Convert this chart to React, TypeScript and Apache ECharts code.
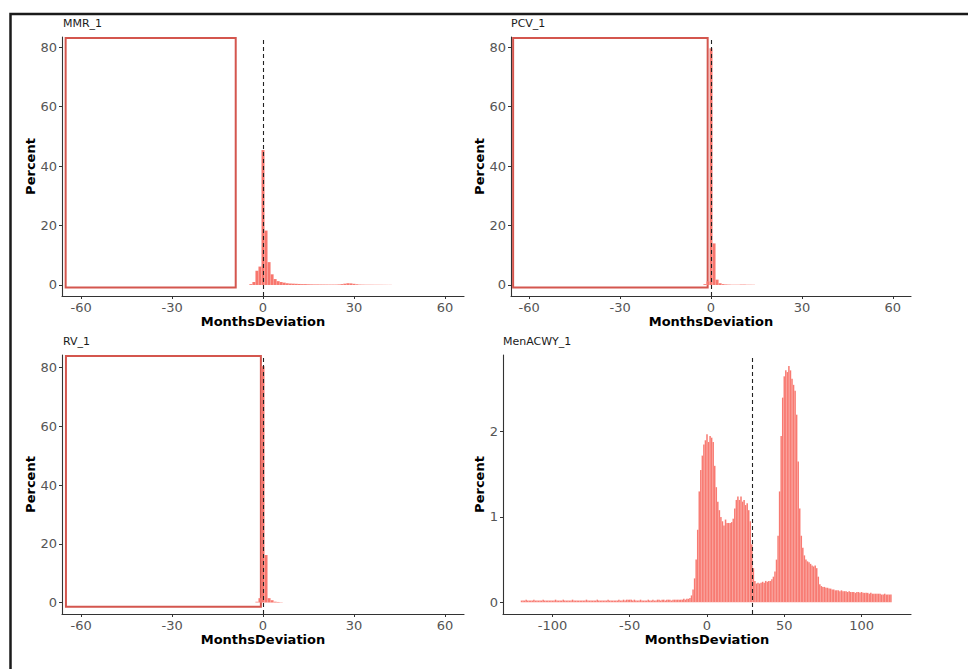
import React, { useEffect, useRef } from 'react';
import * as echarts from 'echarts';

const FONT = 'DejaVu Sans';
const BAR_FILL = '#F8766D';

// Panel titles
const PANEL_TITLES = ['MMR_1', 'PCV_1', 'RV_1', 'MenACWY_1'];

// Histogram bins (binwidth 1 month), first bin centre + percentages
const MMR_START = -4;
const MMR_PCT = [0.3, 1.0, 4.8, 6.2, 45.4, 18.3, 7.7, 3.6, 2.0, 1.3, 1.0, 0.8, 0.6, 0.5, 0.45, 0.4, 0.35, 0.3, 0.3, 0.25,
  0.22, 0.2, 0.2, 0.18, 0.17, 0.16, 0.15, 0.15, 0.15, 0.2, 0.3, 0.45, 0.6, 0.55, 0.4, 0.25, 0.15, 0.12, 0.1, 0.1,
  0.09, 0.08, 0.08, 0.07, 0.06, 0.05, 0.05];

const PCV_START = -2;
const PCV_PCT = [0.3, 1.2, 79.6, 14.0, 1.8, 0.6, 0.3, 0.2, 0.15, 0.1, 0.1, 0.1, 0.15, 0.15, 0.1, 0.1, 0.08];

const RV_START = -2;
const RV_PCT = [0.3, 1.5, 80.5, 16.2, 1.5, 0.8, 0.3, 0.2, 0.1];

const MEN_START = -120;
const MEN_PCT = [
  0.02, 0.02, 0.02, 0.03, 0.02, 0.02, 0.02, 0.02, 0.03, 0.02, 0.02, 0.02, 0.02, 0.02, 0.03, 0.02, 0.02, 0.02, 0.02, 0.02,
  0.02, 0.02, 0.03, 0.02, 0.02, 0.02, 0.02, 0.03, 0.02, 0.02, 0.02, 0.02, 0.02, 0.03, 0.02, 0.02, 0.02, 0.02, 0.02, 0.02,
  0.02, 0.02, 0.03, 0.02, 0.02, 0.02, 0.02, 0.02, 0.02, 0.03, 0.02, 0.02, 0.02, 0.02, 0.02, 0.02, 0.03, 0.02, 0.02, 0.02,
  0.02, 0.02, 0.02, 0.03, 0.02, 0.02, 0.03, 0.02, 0.03, 0.03, 0.03, 0.03, 0.02, 0.03, 0.02, 0.02, 0.02, 0.03, 0.02, 0.02,
  0.02, 0.02, 0.03, 0.02, 0.02, 0.03, 0.02, 0.02, 0.03, 0.03, 0.02, 0.03, 0.03, 0.02, 0.03, 0.03, 0.03, 0.02, 0.03, 0.03,
  0.03, 0.03, 0.03, 0.03, 0.03, 0.04, 0.03, 0.04, 0.04, 0.05,
  0.08, 0.15, 0.28, 0.5, 0.85, 1.3, 1.55, 1.72, 1.85, 1.9,
  1.97, 1.88, 1.95, 1.93, 1.88, 1.6, 1.35, 1.18, 1.08, 1.0,
  0.95, 0.9, 0.97, 0.93, 0.93, 0.93, 0.94, 0.98, 1.1, 1.2,
  1.24, 1.2, 1.24, 1.18, 1.2, 1.14, 1.16, 1.08, 0.95, 0.68,
  0.4, 0.25, 0.22, 0.23, 0.22, 0.23, 0.24, 0.23, 0.25, 0.24,
  0.25, 0.25, 0.27, 0.3, 0.36, 0.5, 0.78, 1.3, 1.95, 2.4,
  2.65, 2.72, 2.7, 2.77, 2.72, 2.62, 2.55, 2.48, 2.2, 1.65,
  1.1, 0.78, 0.64, 0.55, 0.5, 0.48, 0.47, 0.45, 0.43, 0.42,
  0.43, 0.4, 0.3, 0.21, 0.19, 0.18, 0.18, 0.17, 0.17, 0.16,
  0.16, 0.15, 0.15, 0.14, 0.14, 0.14, 0.13, 0.14, 0.13, 0.13,
  0.13, 0.12, 0.13, 0.12, 0.12, 0.12, 0.11, 0.12, 0.12, 0.11,
  0.12, 0.11, 0.11, 0.11, 0.11, 0.1, 0.11, 0.1, 0.1, 0.1,
  0.1, 0.1, 0.1, 0.09, 0.09, 0.1, 0.09, 0.09, 0.09, 0.09,
];

// Reference (dashed) lines, in months
const REF_LINES = [0, 0, 0, 29];

// Tick values
const X_TICKS_SMALL = [-60, -30, 0, 30, 60];
const X_TICKS_MEN = [-100, -50, 0, 50, 100];
const Y_TICKS_PCT = [0, 20, 40, 60, 80];
const Y_TICKS_MEN = [0, 1, 2];

// Axis ranges [xmin, xmax, ymin, ymax]
const RANGES = [
  [-66.3, 66.3, -3.7, 83.4],
  [-66.0, 66.0, -3.7, 83.4],
  [-66.3, 66.3, -3.9, 84.3],
  [-132, 132, -0.138, 2.9],
];

// Red highlight boxes in data coordinates [x0, y0, x1, y1]
const BOXES: (number[] | null)[] = [
  [-65.1, 83.1, -9.0, -0.8],
  [-65.3, 83.1, -1.1, -0.8],
  [-65.0, 84.0, -0.7, -1.4],
  null,
];

const GRIDS = [
  { left: 62, top: 37, width: 402, height: 259 },
  { left: 511, top: 37, width: 400, height: 259 },
  { left: 62, top: 355, width: 402, height: 259 },
  { left: 503, top: 355, width: 408, height: 259 },
];

function toData(start: number, vals: number[]) {
  return vals.map((v, i) => [start + i, v]);
}

export default function App() {
  const ref = useRef<HTMLDivElement>(null);
  useEffect(() => {
    if (!ref.current) return;
    const chart = echarts.init(ref.current, undefined, { renderer: 'svg' });
    const datasets = [
      toData(MMR_START, MMR_PCT),
      toData(PCV_START, PCV_PCT),
      toData(RV_START, RV_PCT),
      toData(MEN_START, MEN_PCT),
    ];
    const axisLine = { show: true, onZero: false, lineStyle: { color: '#333333', width: 1.1 } };
    const xAxis = GRIDS.map((_, i) => {
      const ticks = i === 3 ? X_TICKS_MEN : X_TICKS_SMALL;
      return {
        type: 'value',
        gridIndex: i,
        min: RANGES[i][0],
        max: RANGES[i][1],
        axisLine,
        axisTick: { show: true, length: 3, customValues: ticks, lineStyle: { color: '#333333', width: 1 } },
        axisLabel: { customValues: ticks, fontSize: 13, color: '#555555', margin: 5, fontFamily: FONT },
        splitLine: { show: false },
        name: 'MonthsDeviation',
        nameLocation: 'middle',
        nameGap: 18,
        nameTextStyle: { fontWeight: 'bold', fontSize: 13, color: '#000', fontFamily: FONT },
      };
    });
    const yAxis = GRIDS.map((_, i) => {
      const ticks = i === 3 ? Y_TICKS_MEN : Y_TICKS_PCT;
      return {
        type: 'value',
        gridIndex: i,
        min: RANGES[i][2],
        max: RANGES[i][3],
        axisLine,
        axisTick: { show: true, length: 3, customValues: ticks, lineStyle: { color: '#333333', width: 1 } },
        axisLabel: { customValues: ticks, fontSize: 13, color: '#555555', margin: 5, fontFamily: FONT },
        splitLine: { show: false },
        name: 'Percent',
        nameLocation: 'middle',
        nameRotate: 90,
        nameGap: i === 3 ? 15 : 22,
        nameTextStyle: { fontWeight: 'bold', fontSize: 13, color: '#000', fontFamily: FONT },
      };
    });
    const series: any[] = [];
    GRIDS.forEach((_, i) => {
      series.push({
        type: 'custom',
        xAxisIndex: i,
        yAxisIndex: i,
        encode: { x: 0, y: 1 },
        data: datasets[i],
        renderItem: (params: any, api: any) => {
          const x = api.value(0);
          const y = api.value(1);
          const p0 = api.coord([x - 0.5, y]);
          const p1 = api.coord([x + 0.5, 0]);
          return {
            type: 'rect',
            shape: { x: p0[0], y: p0[1], width: p1[0] - p0[0], height: p1[1] - p0[1] },
            style: { fill: BAR_FILL, stroke: 'rgba(255,255,255,0.28)', lineWidth: i === 3 ? 0.3 : 0.25 },
          };
        },
      });
      const box = BOXES[i];
      series.push({
        type: 'line',
        xAxisIndex: i,
        yAxisIndex: i,
        data: [],
        silent: true,
        markLine: {
          silent: true,
          symbol: ['none', 'none'],
          label: { show: false },
          lineStyle: { type: [4, 3], color: '#222', width: 1.1 },
          data: [{ xAxis: REF_LINES[i] }],
          z: 5,
        },
        markArea: box
          ? {
              silent: true,
              label: { show: false },
              itemStyle: { color: 'rgba(0,0,0,0)', borderColor: '#d4564e', borderWidth: 2 },
              data: [[{ xAxis: box[0], yAxis: box[1] }, { xAxis: box[2], yAxis: box[3] }]],
            }
          : undefined,
      });
    });
    const titlePos = [
      [63, 18],
      [511, 18],
      [63, 336],
      [503, 336],
    ];
    chart.setOption({
      animation: false,
      backgroundColor: '#ffffff',
      textStyle: { fontFamily: FONT },
      title: PANEL_TITLES.map((t, i) => ({
        text: t,
        left: titlePos[i][0],
        top: titlePos[i][1],
        padding: 0,
        textStyle: { fontSize: 11, fontWeight: 'normal', color: '#1a1a1a', fontFamily: FONT },
      })),
      grid: GRIDS,
      xAxis,
      yAxis,
      series,
      graphic: [
        {
          type: 'rect',
          silent: true,
          shape: { x: 10.5, y: 14, width: 1000, height: 700 },
          style: { fill: 'none', stroke: '#1a1a1a', lineWidth: 2.5 },
        },
      ],
    });
    return () => chart.dispose();
  }, []);
  return <div ref={ref} style={{ position: 'absolute', left: 0, top: 0, width: 968, height: 669 }} />;
}
